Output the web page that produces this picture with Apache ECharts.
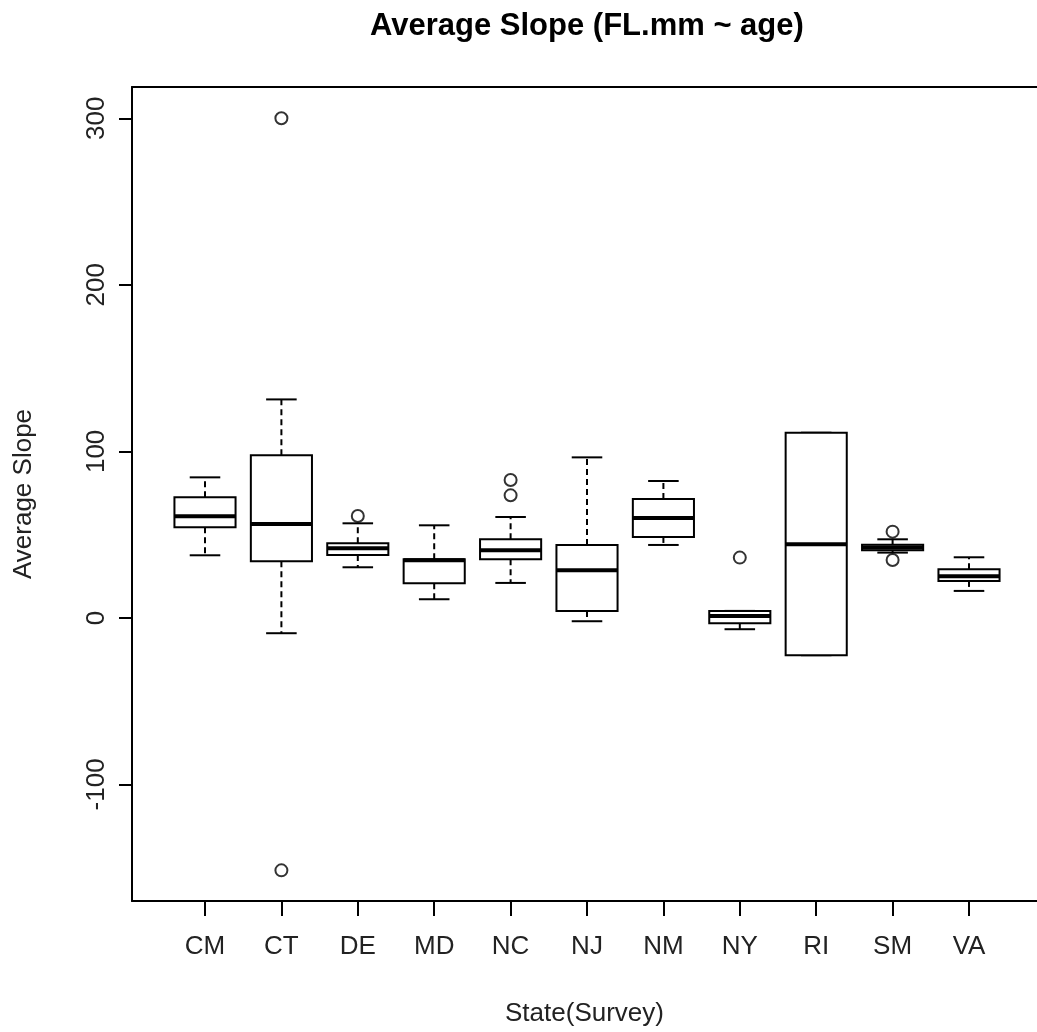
<!DOCTYPE html>
<html>
<head>
<meta charset="utf-8">
<script src="https://cdn.jsdelivr.net/npm/echarts@6/dist/echarts.min.js"></script>
<style>
html,body{margin:0;padding:0;background:#fff;}
#chart{width:1037px;height:1032px;}
</style>
</head>
<body>
<div id="chart"></div>
<script>
// ---- data ----
const categories = ['CM','CT','DE','MD','NC','NJ','NM','NY','RI','SM','VA'];
const whiskerLow  = [37.6, -9.2, 30.4, 11.2, 21.0, -2.0, 43.8, -6.8, -22.4, 39.2, 16.2];
const q1          = [54.4, 34.0, 37.8, 20.8, 35.2,  4.2, 48.6, -3.2, -22.4, 40.6, 22.2];
const medians     = [61.0, 56.4, 41.8, 34.6, 40.6, 28.6, 60.0,  1.2,  44.2, 42.3, 25.0];
const q3          = [72.4, 97.6, 44.8, 35.2, 47.2, 43.8, 71.4,  4.2, 111.2, 44.0, 29.2];
const whiskerHigh = [84.4,131.2, 56.8, 55.6, 60.6, 96.4, 82.2,  4.2, 111.2, 47.2, 36.4];
const outlierCat  = ['CT','CT','DE','NC','NC','NY','SM','SM'];
const outlierVal  = [300, -151.6, 61.2, 82.8, 73.6, 36.2, 51.8, 34.8];
const yTicks = [-100, 0, 100, 200, 300];

const FONT = "'Liberation Sans', Arial, sans-serif";

const boxData = categories.map((c, i) => [i + 1, whiskerLow[i], q1[i], medians[i], q3[i], whiskerHigh[i]]);
const outlierData = outlierCat.map((c, k) => [categories.indexOf(c) + 1, outlierVal[k]]);

const chart = echarts.init(document.getElementById('chart'), null, {renderer: 'canvas'});

function renderBox(params, api) {
  const x = api.value(0);
  const pLo = api.coord([x, api.value(1)]);
  const pQ1 = api.coord([x, api.value(2)]);
  const pMed = api.coord([x, api.value(3)]);
  const pQ3 = api.coord([x, api.value(4)]);
  const pHi = api.coord([x, api.value(5)]);
  const halfW = api.size([0.8, 0])[0] / 2;
  const capHalf = halfW / 2;
  const cx = pMed[0];
  const solid = {stroke: '#000', lineWidth: 2, fill: null};
  const dashed = {stroke: '#000', lineWidth: 2, lineDash: [6, 4], fill: null};
  return {
    type: 'group',
    children: [
      {type: 'line', shape: {x1: cx, y1: pQ3[1], x2: cx, y2: pHi[1]}, style: dashed},
      {type: 'line', shape: {x1: cx, y1: pQ1[1], x2: cx, y2: pLo[1]}, style: dashed},
      {type: 'line', shape: {x1: cx - capHalf, y1: pHi[1], x2: cx + capHalf, y2: pHi[1]}, style: solid},
      {type: 'line', shape: {x1: cx - capHalf, y1: pLo[1], x2: cx + capHalf, y2: pLo[1]}, style: solid},
      {type: 'rect', shape: {x: cx - halfW, y: pQ3[1], width: 2 * halfW, height: pQ1[1] - pQ3[1]},
        style: {stroke: '#000', lineWidth: 2, fill: '#fff'}},
      {type: 'line', shape: {x1: cx - halfW, y1: pMed[1], x2: cx + halfW, y2: pMed[1]},
        style: {stroke: '#000', lineWidth: 4, fill: null}}
    ]
  };
}

const frameLine = {show: true, onZero: false, lineStyle: {color: '#000', width: 2}};

const option = {
  animation: false,
  backgroundColor: '#fff',
  title: {
    text: 'Average Slope (FL.mm ~ age)',
    left: 365,
    top: 6,
    textStyle: {fontFamily: FONT, fontSize: 31, fontWeight: 'bold', color: '#000'}
  },
  grid: {
    left: 132, right: 0, top: 87, bottom: 131,
    show: false,
    containLabel: false
  },
  xAxis: [{
    type: 'value',
    position: 'bottom',
    min: 0.0445,
    max: 11.89,
    splitLine: {show: false},
    axisLine: frameLine,
    axisTick: {show: true, length: 15, inside: false, lineStyle: {color: '#000', width: 2},
      customValues: categories.map((c, i) => i + 1)},
    axisLabel: {show: true, margin: 33, fontFamily: FONT, fontSize: 26, color: '#222',
      customValues: categories.map((c, i) => i + 1),
      formatter: v => categories[Math.round(v) - 1] || ''},
    name: 'State(Survey)',
    nameLocation: 'middle',
    nameGap: 100,
    nameTextStyle: {fontFamily: FONT, fontSize: 26, color: '#222'}
  }, {
    type: 'value',
    position: 'top',
    min: 0.0445,
    max: 11.89,
    splitLine: {show: false},
    axisLine: frameLine,
    axisTick: {show: false},
    axisLabel: {show: false}
  }],
  yAxis: {
    type: 'value',
    min: -170,
    max: 318.8,
    splitLine: {show: false},
    axisLine: frameLine,
    axisTick: {show: true, length: 13, lineStyle: {color: '#000', width: 2}, customValues: yTicks},
    axisLabel: {show: true, rotate: 90, margin: 22, fontFamily: FONT, fontSize: 26, color: '#222',
      customValues: yTicks},
    name: 'Average Slope',
    nameLocation: 'middle',
    nameRotate: 90,
    nameGap: 95,
    nameTextStyle: {fontFamily: FONT, fontSize: 26, color: '#222'}
  },
  series: [
    {
      type: 'custom',
      renderItem: renderBox,
      data: boxData,
      encode: {x: 0, y: [1, 2, 3, 4, 5]},
      clip: false
    },
    {
      type: 'scatter',
      data: outlierData,
      symbol: 'emptyCircle',
      symbolSize: 12,
      itemStyle: {color: '#000', borderWidth: 2},
      z: 5
    }
  ]
};
chart.setOption(option);
</script>
</body>
</html>
